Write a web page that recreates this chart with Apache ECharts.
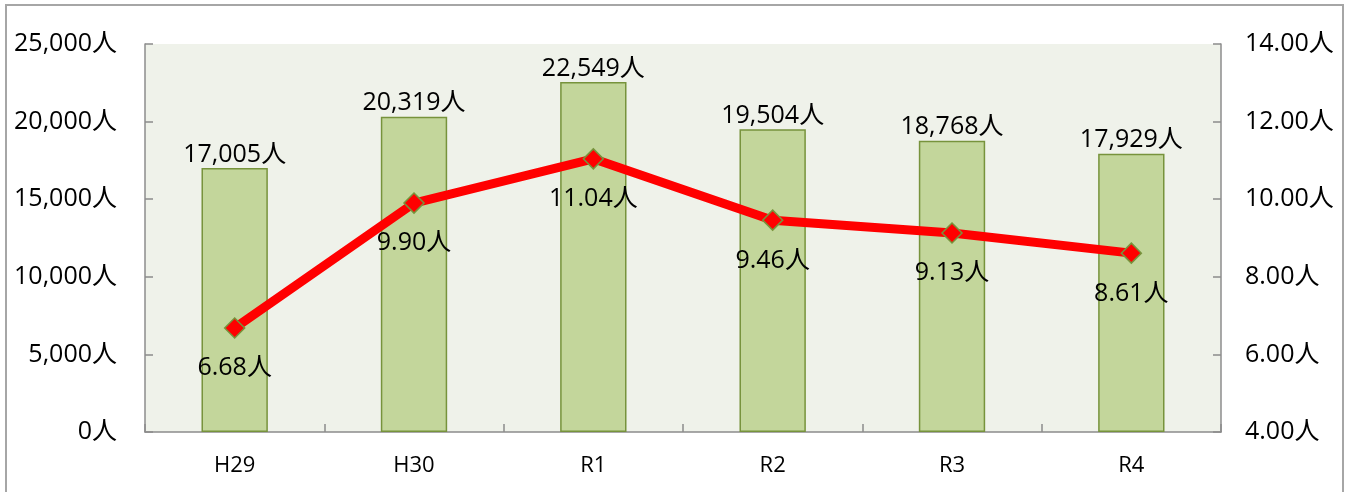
<!DOCTYPE html>
<html><head><meta charset="utf-8">
<script src="https://cdn.jsdelivr.net/npm/echarts@6/dist/echarts.min.js"></script>
<style>html,body{margin:0;padding:0;background:#fff}#c{width:1354px;height:492px}</style>
</head><body><div id="c"></div>
<script>
const categories = ['H29','H30','R1','R2','R3','R4'];
const peopleValues = [17005, 20319, 22549, 19504, 18768, 17929];
const rateValues = [6.68, 9.90, 11.04, 9.46, 9.13, 8.61];
const FONT = "'Open Sans','Noto Sans CJK JP',sans-serif";
const chart = echarts.init(document.getElementById('c'));
const axisGray = '#8c8c8c';
chart.setOption({
  animation: false,
  textStyle: {fontFamily: FONT},
  graphic: [{type:'rect', shape:{x:6,y:5,width:1337,height:520}, style:{fill:'none', stroke:'#a6a6a6', lineWidth:2}, z:-1}],
  grid: {left:145, right:133, top:44, bottom:60, show:true, backgroundColor:'#eff2ea', borderWidth:0},
  xAxis: {
    type:'category', data: categories,
    axisLine:{show:true, lineStyle:{color:axisGray, width:1.5}},
    axisTick:{show:true, inside:true, length:8, lineStyle:{color:axisGray, width:1.5}},
    axisLabel:{color:'#000', fontSize:22, margin:23, fontFamily:FONT}
  },
  yAxis: [{
    type:'value', min:0, max:25000, interval:5000,
    axisLine:{show:true, lineStyle:{color:axisGray, width:1.5}},
    axisTick:{show:true, inside:true, length:8, lineStyle:{color:axisGray, width:1.5}},
    splitLine:{show:false},
    axisLabel:{color:'#000', fontSize:25, margin:28, fontFamily:FONT,
      formatter: v => v.toLocaleString('en-US') + '人'}
  },{
    type:'value', min:4, max:14, interval:2,
    axisLine:{show:true, lineStyle:{color:axisGray, width:1.5}},
    axisTick:{show:true, inside:true, length:8, lineStyle:{color:axisGray, width:1.5}},
    splitLine:{show:false},
    axisLabel:{color:'#000', fontSize:25, margin:24, fontFamily:FONT,
      formatter: v => v.toFixed(2) + '人'}
  }],
  series: [{
    type:'bar', data: peopleValues, yAxisIndex:0, barWidth:'37%',
    itemStyle:{color:'#c3d69b', borderColor:'#77933c', borderWidth:1.5},
    label:{show:true, position:'top', distance:1, color:'#000', fontSize:25, fontFamily:FONT,
      formatter: p => p.value.toLocaleString('en-US') + '人'}
  },{
    type:'line', data: rateValues, yAxisIndex:1,
    lineStyle:{color:'#ff0000', width:9},
    symbol:'diamond', symbolSize:20,
    itemStyle:{color:'#ff0000', borderColor:'#77933c', borderWidth:1.5},
    label:{show:true, position:'bottom', distance:17, color:'#000', fontSize:25, fontFamily:FONT,
      formatter: p => p.value.toFixed(2) + '人'},
    z:5
  }]
});
</script></body></html>
